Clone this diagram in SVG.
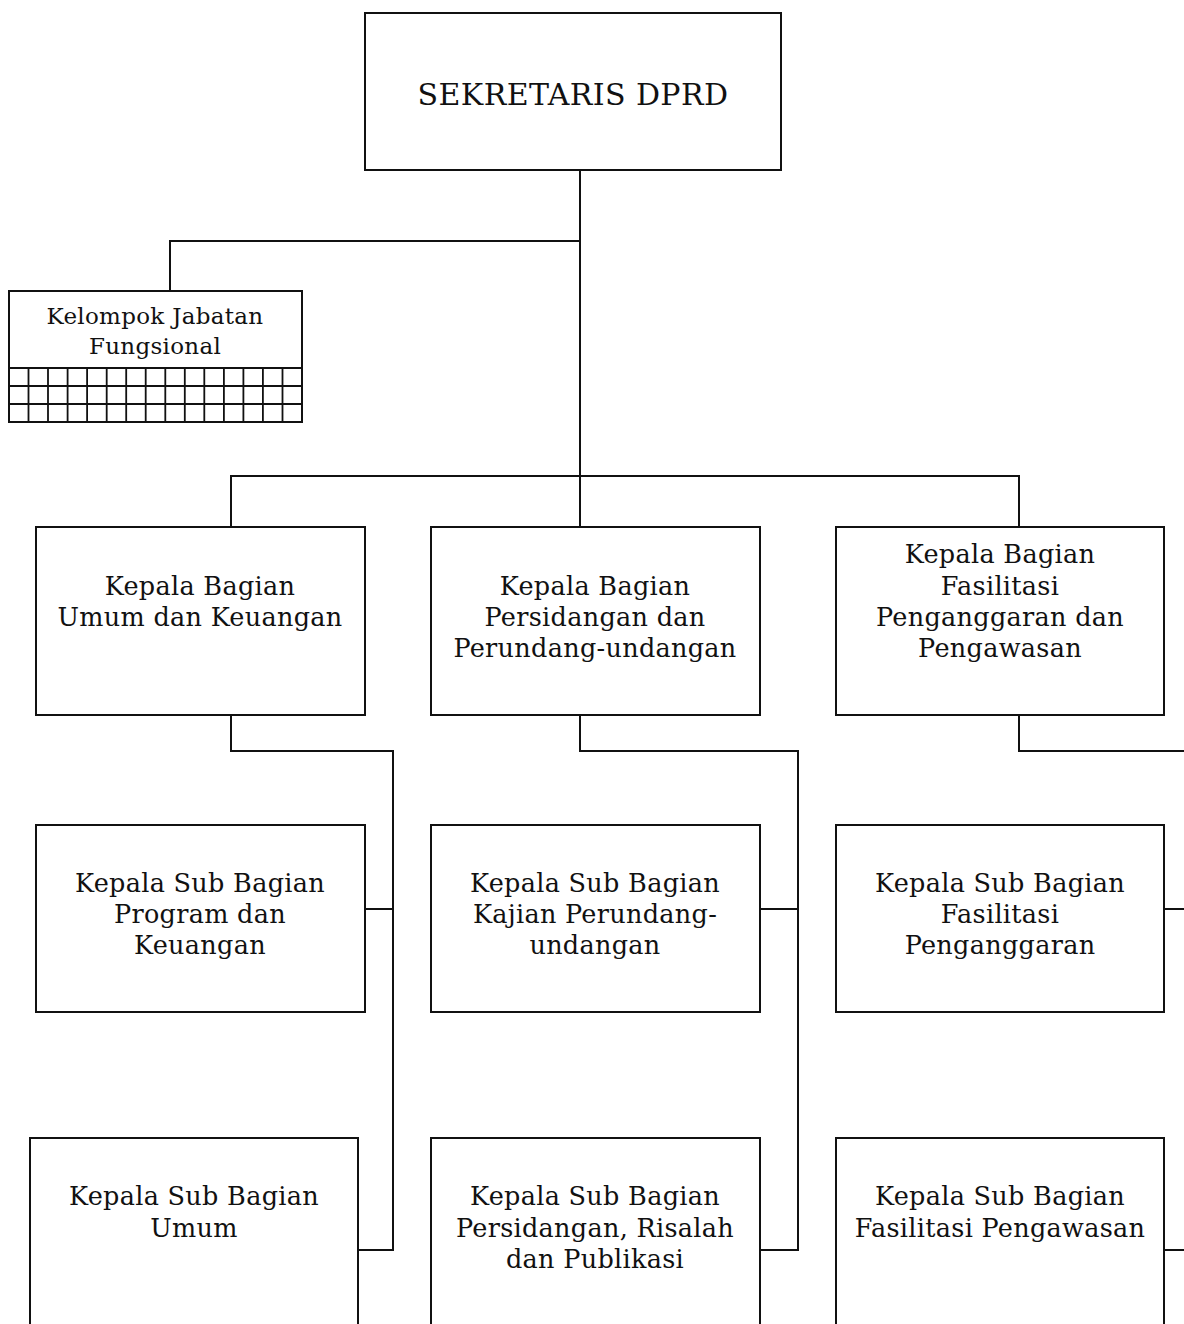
<svg xmlns="http://www.w3.org/2000/svg" width="1184" height="1324" viewBox="0 0 1184 1324">
<style>
.box{fill:#fff;stroke:#111;stroke-width:2}
.ln{fill:none;stroke:#111;stroke-width:2}
.t{font-family:"DejaVu Serif","Liberation Serif",serif;font-size:25.5px;fill:#111;text-anchor:middle;letter-spacing:0.3px}
.tt{font-family:"DejaVu Serif","Liberation Serif",serif;font-size:30px;fill:#111;text-anchor:middle;letter-spacing:0.4px}
.ts{font-family:"DejaVu Serif","Liberation Serif",serif;font-size:23px;fill:#111;text-anchor:middle;letter-spacing:0.3px}
.g{fill:none;stroke:#111;stroke-width:1.8}
</style>
<rect width="1184" height="1324" fill="#fff"/>
<g id="connectors">
<path class="ln" d="M580 170 V527"/>
<path class="ln" d="M580 241 H170 V291"/>
<path class="ln" d="M231 527 V476 H1019 V527"/>
<path class="ln" d="M231 715 V751 H393 V1250 H358"/>
<path class="ln" d="M365 909 H393"/>
<path class="ln" d="M580 715 V751 H798 V1250 H760"/>
<path class="ln" d="M760 909 H798"/>
<path class="ln" d="M1019 715 V751 H1186"/>
<path class="ln" d="M1164 909 H1186"/>
<path class="ln" d="M1164 1250 H1186"/>
</g>
<g id="sekretaris">
<rect class="box" x="365" y="13" width="416" height="157"/>
<text class="tt" x="573" y="105">SEKRETARIS DPRD</text>
</g>
<g id="kelompok">
<rect class="box" x="9" y="291" width="293" height="131"/>
<text class="ts" x="155" y="324">Kelompok Jabatan</text>
<text class="ts" x="155" y="354">Fungsional</text>
<path class="g" d="M9 368 H302 M9 386 H302 M9 404 H302 M28.5 368 V422 M48 368 V422 M67.6 368 V422 M87.1 368 V422 M106.7 368 V422 M126.2 368 V422 M145.7 368 V422 M165.3 368 V422 M184.8 368 V422 M204.3 368 V422 M223.9 368 V422 M243.4 368 V422 M262.9 368 V422 M282.5 368 V422"/>
</g>
<g id="kabag-umum">
<rect class="box" x="36" y="527" width="329" height="188"/>
<text class="t" x="200" y="595">Kepala Bagian</text>
<text class="t" x="200" y="626">Umum dan Keuangan</text>
</g>
<g id="kabag-persidangan">
<rect class="box" x="431" y="527" width="329" height="188"/>
<text class="t" x="595" y="595">Kepala Bagian</text>
<text class="t" x="595" y="626">Persidangan dan</text>
<text class="t" x="595" y="657">Perundang-undangan</text>
</g>
<g id="kabag-fasilitasi">
<rect class="box" x="836" y="527" width="328" height="188"/>
<text class="t" x="1000" y="563">Kepala Bagian</text>
<text class="t" x="1000" y="595">Fasilitasi</text>
<text class="t" x="1000" y="626">Penganggaran dan</text>
<text class="t" x="1000" y="657">Pengawasan</text>
</g>
<g id="kasubag-program">
<rect class="box" x="36" y="825" width="329" height="187"/>
<text class="t" x="200" y="892">Kepala Sub Bagian</text>
<text class="t" x="200" y="923">Program dan</text>
<text class="t" x="200" y="954">Keuangan</text>
</g>
<g id="kasubag-kajian">
<rect class="box" x="431" y="825" width="329" height="187"/>
<text class="t" x="595" y="892">Kepala Sub Bagian</text>
<text class="t" x="595" y="923">Kajian Perundang-</text>
<text class="t" x="595" y="954">undangan</text>
</g>
<g id="kasubag-penganggaran">
<rect class="box" x="836" y="825" width="328" height="187"/>
<text class="t" x="1000" y="892">Kepala Sub Bagian</text>
<text class="t" x="1000" y="923">Fasilitasi</text>
<text class="t" x="1000" y="954">Penganggaran</text>
</g>
<g id="kasubag-umum">
<rect class="box" x="30" y="1138" width="328" height="200"/>
<text class="t" x="194" y="1205">Kepala Sub Bagian</text>
<text class="t" x="194" y="1237">Umum</text>
</g>
<g id="kasubag-risalah">
<rect class="box" x="431" y="1138" width="329" height="200"/>
<text class="t" x="595" y="1205">Kepala Sub Bagian</text>
<text class="t" x="595" y="1237">Persidangan, Risalah</text>
<text class="t" x="595" y="1268">dan Publikasi</text>
</g>
<g id="kasubag-pengawasan">
<rect class="box" x="836" y="1138" width="328" height="200"/>
<text class="t" x="1000" y="1205">Kepala Sub Bagian</text>
<text class="t" x="1000" y="1237">Fasilitasi Pengawasan</text>
</g>
</svg>
